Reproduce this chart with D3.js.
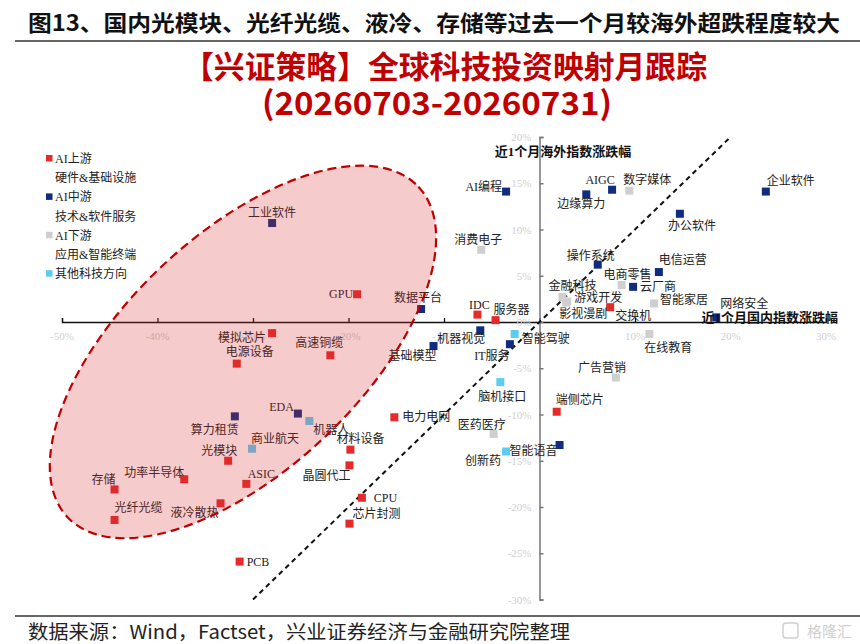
<!DOCTYPE html>
<html>
<head>
<meta charset="utf-8">
<script src="https://cdn.jsdelivr.net/npm/d3@7"></script>
<style>
  body { margin: 0; background: #fff; }
  svg { display: block; }
  .pt-label { font-family: "Liberation Serif", "Noto Sans CJK SC", serif; font-size: 12px; fill: #222; }
  .tick-label { font-family: "Liberation Serif", serif; font-size: 11px; fill: #cfcfcf; }
  .axis-title { font-family: "Liberation Serif", "Noto Sans CJK SC", serif; font-size: 13px; font-weight: bold; fill: #111; }
</style>
</head>
<body>
<svg id="chart"></svg>
<script>
// ---- data: 近1个月国内 / 海外指数涨跌幅 (%) ----
const sectors = ['工业软件','GPU','数据平台','模拟芯片','高速铜缆','电源设备','基础模型','IDC','服务器','机器视觉',
  '智能驾驶','IT服务','脑机接口','电力电网','医药医疗','创新药','端侧芯片','智能语音','广告营销','在线教育',
  '金融科技','游戏开发','影视漫剧','交换机','AI编程','边缘算力','AIGC','数字媒体','企业软件','办公软件',
  '消费电子','操作系统','电信运营','电商零售','云厂商','智能家居','网络安全','算力租赁','EDA','机器人',
  '商业航天','光模块','功率半导体','存储','ASIC','液冷散热','光纤光缆','PCB','材料设备','晶圆代工','CPU','芯片封测'];
const domestic = [-28.0,-19.1,-12.4,-28.0,-21.9,-31.7,-11.1,-6.5,-4.6,-6.2,
  -2.6,-3.1,-4.1,-15.2,-4.8,-3.5,1.8,2.1,8.0,11.5,
  2.4,2.9,2.8,7.4,-3.5,4.9,7.6,9.4,23.7,14.7,
  -6.1,6.1,12.5,8.6,9.8,12.0,18.5,-31.9,-25.3,-24.1,
  -30.1,-32.6,-37.2,-44.5,-30.7,-33.4,-44.5,-31.4,-19.8,-19.9,-18.6,-19.9];
const overseas = [10.7,3.0,1.4,-1.2,-3.6,-4.5,-2.6,0.8,0.2,-0.9,
  -1.3,-2.4,-6.5,-10.3,-12.1,-14.0,-9.7,-13.3,-6.0,-1.3,
  2.7,2.2,2.1,1.6,14.1,13.8,14.3,14.2,14.1,11.7,
  7.8,6.2,5.4,4.0,3.8,2.0,0.5,-10.2,-9.9,-10.7,
  -13.7,-15.0,-17.0,-18.1,-17.5,-19.6,-21.4,-25.9,-13.8,-15.5,-19.0,-21.8];
const groups = ['mid','up','mid','up','up','up','mid','up','up','mid',
  'other','mid','other','up','down','other','up','mid','down','down',
  'down','down','down','up','mid','mid','mid','down','mid','mid',
  'down','mid','mid','down','mid','down','mid','mid','mid','other',
  'other','up','up','up','up','up','up','up','up','up','up','up'];

const groupNames = ['up','mid','down','other'];
const legendLines = [['AI上游','硬件&基础设施'],['AI中游','技术&软件服务'],['AI下游','应用&智能终端'],['其他科技方向']];
const xTicks = [-50,-40,-30,-20,-10,10,20,30];
const yTicks = [-30,-25,-20,-15,-10,-5,0,5,10,15,20];

// label placement: offset of label centre from point (px), or anchor start/end
const labelPos = {
  '工业软件':[0,-10],'GPU':[-4,0,'end'],'数据平台':[-3,-11],'模拟芯片':[-6,5,'end'],'高速铜缆':[-11,-12],
  '电源设备':[13,-12],'基础模型':[-21,10],'IDC':[2,-10],'服务器':[16,-10],'机器视觉':[-19,9],
  '智能驾驶':[7,5,'start'],'IT服务':[-18,12],'脑机接口':[2,15],'电力电网':[8,0,'start'],'医药医疗':[-12,-9],
  '创新药':[-23,9],'端侧芯片':[23,-12],'智能语音':[-26,6],'广告营销':[-14,-10],'在线教育':[19,14],
  '金融科技':[10,-11],'游戏开发':[7,-4,'start'],'影视漫剧':[17,11],'交换机':[23,9],'AI编程':[-4,-5,'end'],
  '边缘算力':[-5,10],'AIGC':[-12,-10],'数字媒体':[18,-11],'企业软件':[25,-11],'办公软件':[12,12],
  '消费电子':[-3,-10],'操作系统':[-7,-9],'电信运营':[24,-12],'电商零售':[6,-10],'云厂商':[7,0,'start'],
  '智能家居':[6,-4,'start'],'网络安全':[28,-13],'算力租赁':[-20,14],'EDA':[-4,-7,'end'],'机器人':[22,9],
  '商业航天':[23,-10],'光模块':[-9,-10],'功率半导体':[-30,-6],'存储':[-11,-9],'ASIC':[15,-10],
  '液冷散热':[-26,10],'光纤光缆':[24,-12],'PCB':[7,0,'start'],'材料设备':[10,-11],'晶圆代工':[-23,11],
  'CPU':[12,0,'start'],'芯片封测':[27,-10]
};

class ScatterChart {
  constructor(_config) {
    this.config = {
      parentElement: _config.parentElement,
      containerWidth: _config.containerWidth || 860,
      containerHeight: _config.containerHeight || 644,
      colors: _config.colors
    };
    this.initVis();
  }

  initVis() {
    let vis = this;
    vis.svg = d3.select(vis.config.parentElement)
      .attr('width', vis.config.containerWidth)
      .attr('height', vis.config.containerHeight);

    vis.xScale = d3.scaleLinear().domain([-50, 30]).range([62, 826]);
    vis.yScale = d3.scaleLinear().domain([-30, 20]).range([599.5, 137]);

    // headers
    vis.svg.append('text')
      .attr('x', 28).attr('y', 31)
      .style('font-family', '"Noto Sans CJK SC", sans-serif')
      .style('font-size', '22px').style('font-weight', 'bold').style('fill', '#111')
      .attr('textLength', 812).attr('lengthAdjust', 'spacingAndGlyphs')
      .text('图13、国内光模块、光纤光缆、液冷、存储等过去一个月较海外超跌程度较大');
    vis.svg.append('line')
      .attr('x1', 15).attr('x2', 860).attr('y1', 41).attr('y2', 41)
      .attr('stroke', '#333').attr('stroke-width', 1.5);

    vis.svg.append('text')
      .attr('x', 183).attr('y', 78)
      .style('font-family', '"Noto Sans CJK SC", sans-serif')
      .style('font-size', '31px').style('font-weight', 'bold').style('fill', '#c00000')
      .attr('textLength', 524).attr('lengthAdjust', 'spacingAndGlyphs')
      .text('【兴证策略】全球科技投资映射月跟踪');
    vis.svg.append('text')
      .attr('x', 262).attr('y', 115)
      .style('font-family', '"Noto Sans CJK SC", sans-serif')
      .style('font-size', '32px').style('font-weight', 'bold').style('fill', '#c00000')
      .attr('textLength', 350).attr('lengthAdjust', 'spacingAndGlyphs')
      .text('(20260703-20260731)');

    // footer
    vis.svg.append('line')
      .attr('x1', 15).attr('x2', 860).attr('y1', 616).attr('y2', 616)
      .attr('stroke', '#333').attr('stroke-width', 1.5);
    vis.svg.append('text')
      .attr('x', 28).attr('y', 639)
      .style('font-family', '"Noto Sans CJK SC", sans-serif')
      .style('font-size', '19px').style('fill', '#222')
      .attr('textLength', 542).attr('lengthAdjust', 'spacingAndGlyphs')
      .text('数据来源：Wind，Factset，兴业证券经济与金融研究院整理');
    vis.svg.append('text')
      .attr('x', 852).attr('y', 637).attr('text-anchor', 'end')
      .style('font-family', '"Noto Sans CJK SC", sans-serif')
      .style('font-size', '15px').style('fill', '#d0d0d0')
      .text('格隆汇');
    vis.svg.append('rect')
      .attr('x', 783).attr('y', 623).attr('width', 15).attr('height', 15).attr('rx', 3)
      .attr('fill', 'none').attr('stroke', '#d0d0d0').attr('stroke-width', 1.5);

    vis.chart = vis.svg.append('g');
  }

  updateVis() {
    let vis = this;
    vis.data = sectors.map((s, i) => ({ name: s, x: domestic[i], y: overseas[i], group: groups[i] }));
    vis.renderVis();
  }

  renderVis() {
    let vis = this;
    const x = vis.xScale, y = vis.yScale;

    // axes
    const xAxis = d3.axisTop(x).tickValues(d3.range(-50, 31, 10)).tickSize(4).tickFormat('');
    const yAxis = d3.axisRight(y).tickValues(yTicks).tickSize(4).tickFormat('');

    vis.chart.append('g')
      .attr('transform', `translate(0,${y(0)})`)
      .call(xAxis)
      .call(g => g.selectAll('path, line').attr('stroke', '#111').attr('stroke-width', 1.3));
    vis.chart.append('g')
      .attr('transform', `translate(${x(0)},0)`)
      .call(yAxis)
      .call(g => g.selectAll('path, line').attr('stroke', '#777').attr('stroke-width', 1.5));

    vis.chart.selectAll('.xt').data(xTicks).join('text')
      .attr('class', 'tick-label')
      .attr('x', d => x(d)).attr('y', y(0) + 18).attr('text-anchor', 'middle')
      .text(d => d + '%');
    vis.chart.selectAll('.yt').data(yTicks).join('text')
      .attr('class', 'tick-label')
      .attr('x', x(0) - 8).attr('y', d => y(d) + 4).attr('text-anchor', 'end')
      .text(d => d + '%');

    // diagonal y = x
    vis.chart.append('line')
      .attr('x1', x(-30)).attr('y1', y(-30)).attr('x2', x(20)).attr('y2', y(20))
      .attr('stroke', '#111').attr('stroke-width', 2).attr('stroke-dasharray', '5,4');

    // points
    vis.chart.selectAll('.pt').data(vis.data).join('rect')
      .attr('class', 'pt')
      .attr('x', d => x(d.x) - 4).attr('y', d => y(d.y) - 4)
      .attr('width', 8).attr('height', 8)
      .attr('fill', d => vis.config.colors[d.group]);

    vis.chart.selectAll('.pt-label').data(vis.data).join('text')
      .attr('class', 'pt-label')
      .attr('x', d => x(d.x) + labelPos[d.name][0])
      .attr('y', d => y(d.y) + labelPos[d.name][1] + 4)
      .attr('text-anchor', d => labelPos[d.name][2] || 'middle')
      .text(d => d.name);

    // highlighted cluster
    vis.chart.append('ellipse')
      .attr('cx', 0).attr('cy', 0).attr('rx', 241).attr('ry', 118)
      .attr('transform', `translate(${x(-31.05)},${y(-3.24)}) rotate(-43.3)`)
      .attr('fill', '#d93030').attr('fill-opacity', 0.25)
      .attr('stroke', '#c00000').attr('stroke-width', 2.2).attr('stroke-dasharray', '9,5');

    // axis titles
    vis.chart.append('text').attr('class', 'axis-title')
      .attr('x', 563).attr('y', 156).attr('text-anchor', 'middle')
      .text('近1个月海外指数涨跌幅');
    vis.chart.append('text').attr('class', 'axis-title')
      .attr('x', 838).attr('y', 322).attr('text-anchor', 'end')
      .text('近1个月国内指数涨跌幅');

    // legend
    const lg = vis.chart.append('g').attr('transform', 'translate(46,0)');
    let row = 0;
    groupNames.forEach((g, i) => {
      legendLines[i].forEach((t, j) => {
        const ly = 158.5 + row * 19.2;
        if (j === 0) {
          lg.append('rect').attr('x', 0).attr('y', ly - 3.5).attr('width', 6.5).attr('height', 6.5)
            .attr('fill', vis.config.colors[g]);
        }
        lg.append('text').attr('class', 'pt-label')
          .attr('x', 9).attr('y', ly + 4.5).text(t);
        row++;
      });
    });
  }
}

const chart = new ScatterChart({
  parentElement: '#chart',
  colors: { up: '#e52a2a', mid: '#0f2c80', down: '#cfcfcf', other: '#5ccdf2' }
});
chart.updateVis();
</script>
</body>
</html>
